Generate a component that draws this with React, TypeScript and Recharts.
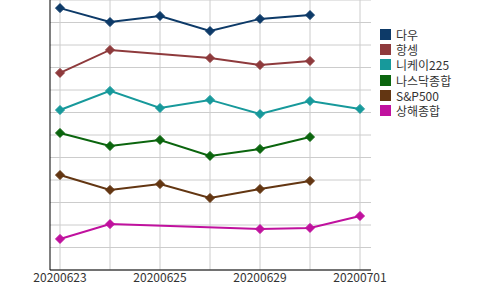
import React from 'react';
import {
	LineChart,
	Line,
	XAxis,
	YAxis,
	CartesianGrid,
} from 'recharts';

const dates = ['20200623', '20200624', '20200625', '20200626', '20200629', '20200630', '20200701'];
const dow = [11.64, 11.02, 11.29, 10.62, 11.16, 11.33, null];
const hangseng = [8.76, 9.78, null, 9.42, 9.11, 9.29, null];
const nikkei = [7.11, 7.96, 7.2, 7.56, 6.93, 7.51, 7.16];
const nasdaq = [6.09, 5.51, 5.78, 5.07, 5.38, 5.91, null];
const sp500 = [4.22, 3.56, 3.82, 3.2, 3.6, 3.96, null];
const shanghai = [1.38, 2.04, null, null, 1.82, 1.87, 2.4];
const yTicks = [0, 1, 2, 3, 4, 5, 6, 7, 8, 9, 10, 11, 12];

const series = [
	{ key: 'dow', name: '다우', color: '#0d3a68', values: dow },
	{ key: 'hangseng', name: '항셍', color: '#8e3a3c', values: hangseng },
	{ key: 'nikkei', name: '니케이225', color: '#17999b', values: nikkei },
	{ key: 'nasdaq', name: '나스닥종합', color: '#0b650e', values: nasdaq },
	{ key: 'sp500', name: 'S&P500', color: '#633612', values: sp500 },
	{ key: 'shanghai', name: '상해종합', color: '#c0119e', values: shanghai },
];

const data = dates.map((d, i) => {
	const row: any = { date: d };
	series.forEach((s) => {
		row[s.key] = s.values[i];
	});
	return row;
});

const FONT = '"Noto Sans CJK KR", "Noto Sans", sans-serif';

const diamond = (color: string) => (props: any) => {
	const { cx, cy, index } = props;
	if (cx == null || cy == null || isNaN(cy)) return <g key={index} />;
	const r = 4.5;
	return (
		<path
			key={index}
			d={`M${cx},${cy - r}L${cx + r},${cy}L${cx},${cy + r}L${cx - r},${cy}Z`}
			fill={color}
			stroke={color}
		/>
	);
};

// every other date gets a label, but every date keeps its grid line
const DateTick = (props: any) => {
	const { x, y, payload, index } = props;
	if (index % 2 !== 0) return <g />;
	return (
		<text
			x={x}
			y={y}
			dy={9}
			textAnchor="middle"
			fill="#333"
			fontSize={12}
			fontFamily={FONT}
		>
			{payload.value}
		</text>
	);
};

const LegendBox = () => (
	<div
		style={{
			position: 'absolute',
			left: 380,
			top: 27,
			fontFamily: FONT,
			fontSize: 12,
			lineHeight: '15px',
			color: '#333',
		}}
	>
		{series.map((s) => (
			<div key={s.key} style={{ display: 'flex', alignItems: 'center', height: 15.2 }}>
				<span
					style={{
						display: 'inline-block',
						width: 11,
						height: 11,
						background: s.color,
						marginRight: 5,
					}}
				/>
				<span>{s.name}</span>
			</div>
		))}
	</div>
);

const App = () => {
	return (
		<div style={{ position: 'absolute', left: 0, top: 0, width: 500, height: 290 }}>
			<LineChart
				width={500}
				height={290}
				data={data}
				margin={{ top: 0, right: 129, left: 0, bottom: 0 }}
			>
				<CartesianGrid stroke="#cccccc" verticalValues={dates} />
				<XAxis
					dataKey="date"
					height={20}
					interval={0}
					padding={{ left: 10, right: 11 }}
					axisLine={{ stroke: '#000' }}
					tickLine={false}
					tickSize={0}
					tickMargin={3}
					tick={<DateTick />}
				/>
				<YAxis
					width={50}
					domain={[0, 12]}
					ticks={yTicks}
					interval={0}
					tick={() => <g />}
					tickLine={false}
					axisLine={{ stroke: '#000' }}
				/>
				{series.map((s) => (
					<Line
						key={s.key}
						type="linear"
						dataKey={s.key}
						name={s.name}
						stroke={s.color}
						strokeWidth={2}
						connectNulls
						dot={diamond(s.color)}
						activeDot={false}
						isAnimationActive={false}
					/>
				))}
			</LineChart>
			<LegendBox />
		</div>
	);
};

export default App;
